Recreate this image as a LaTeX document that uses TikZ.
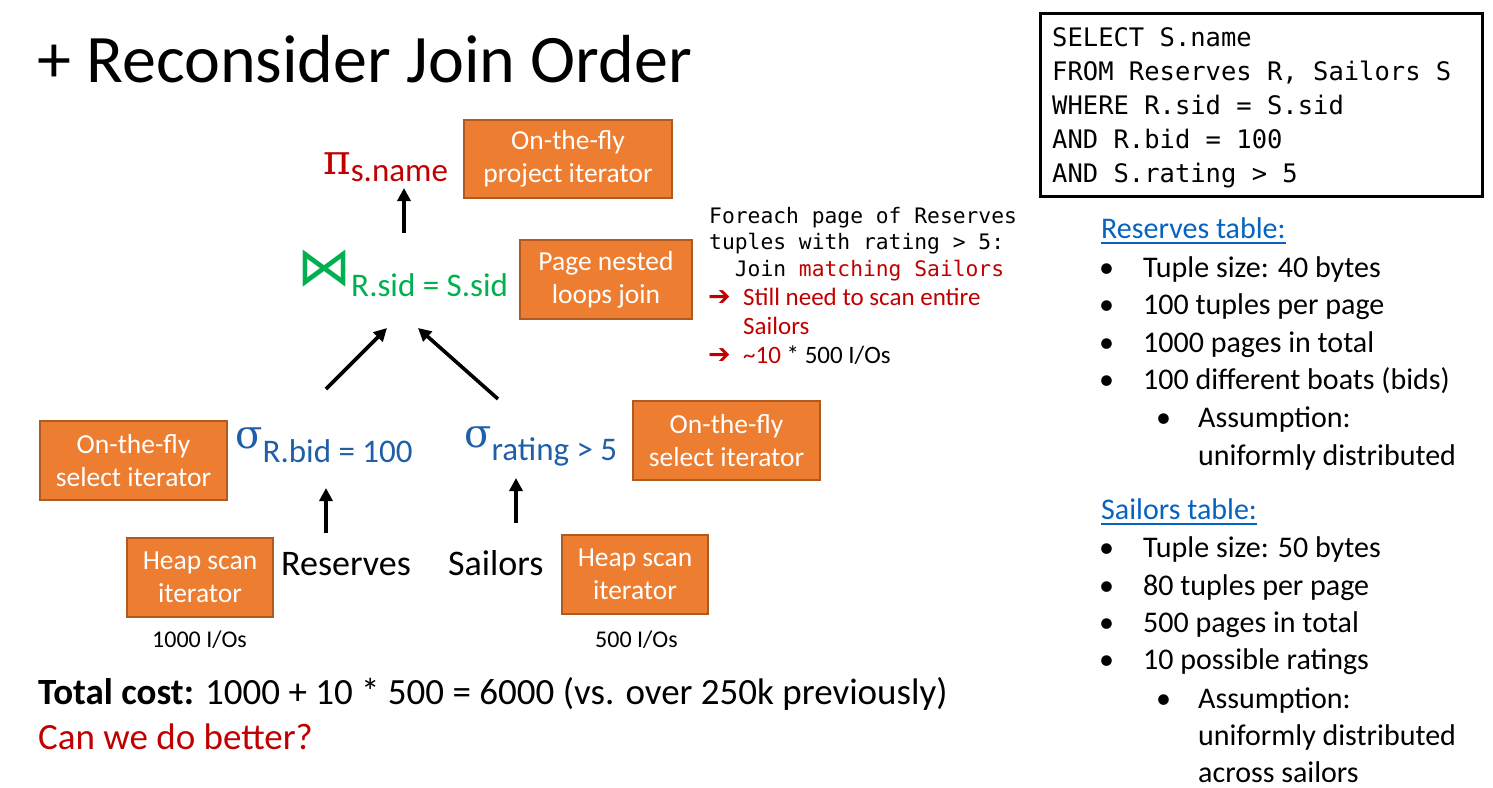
\documentclass[tikz,border=0pt]{standalone}
\usepackage{fontspec}
\setmainfont{Carlito}
\newfontfamily\codefont{DejaVu Sans Mono}
\newfontfamily\symfont{DejaVu Sans}
\newfontfamily\greekfont{DejaVu Serif}
\usetikzlibrary{arrows.meta}
\definecolor{boxfill}{HTML}{ED7D31}
\definecolor{boxline}{HTML}{AE5A21}
\definecolor{darkred}{HTML}{C00000}
\definecolor{opgreen}{HTML}{00B050}
\definecolor{opblue}{HTML}{1F5FA8}
\definecolor{linkblue}{HTML}{0563C1}
\newcommand\fsz[2]{\fontsize{#1}{#2}\selectfont}
\tikzset{
  opbox/.style={draw=boxline, fill=boxfill, line width=1.2pt, text=white,
    align=center, inner sep=0pt, font=\fsz{27.5}{33}},
  txt/.style={anchor=base west, inner sep=0pt},
  code/.style={txt, font=\codefont\fsz{21.3}{26}},
  sql/.style={txt, font=\codefont\fsz{25.5}{34}},
  note/.style={txt, font=\fsz{25}{29}},
  arrowbullet/.style={txt, text=darkred, font=\symfont\fsz{27}{27}},
  info/.style={txt, font=\fsz{30}{37}},
  flow/.style={-{Triangle[length=13pt,width=13pt]}, line width=3.6pt},
}
\begin{document}
\begin{tikzpicture}[x=1pt,y=-1pt]
\useasboundingbox (0,0) rectangle (1493,787);

% title
\node[txt, font=\fsz{68}{80}] (title) at (37,82) {+ Reconsider Join Order};

% operator tree
\node[txt, text=darkred] (proj) at (323,174)
  {{\greekfont\fsz{42}{42}π}\raisebox{-7pt}{\fsz{33}{33}s.name}};
\node[txt, text=opgreen] (join) at (297,285)
  {{\symfont\fsz{54}{54}⋈}\raisebox{-11pt}{\fsz{33}{33}R.sid = S.sid}};
\node[txt, text=opblue] (selR) at (235,448)
  {{\greekfont\fsz{40}{40}σ}\raisebox{-14pt}{\fsz{33}{33}R.bid = 100}};
\node[txt, text=opblue] (selS) at (464,447)
  {{\greekfont\fsz{40}{40}σ}\raisebox{-13pt}{\fsz{33}{33}rating > 5}};
\node[txt, font=\fsz{36}{36}] (res) at (281,575) {Reserves};
\node[txt, font=\fsz{36}{36}] (sail) at (448,575) {Sailors};
\node[txt, font=\fsz{24}{24}] (ioR) at (152,647) {1000 I/Os};
\node[txt, font=\fsz{24}{24}] (ioS) at (595,647) {500 I/Os};

% iterator boxes
\node[opbox, minimum width=208pt, minimum height=78pt] (bproj) at (568,159) {On-the-fly\\project iterator};
\node[opbox, minimum width=172pt, minimum height=79pt] (bjoin) at (606,279.5) {Page nested\\loops join};
\node[opbox, minimum width=187pt, minimum height=79pt] (bselR) at (133.5,460.5) {On-the-fly\\select iterator};
\node[opbox, minimum width=187pt, minimum height=79pt] (bselS) at (726.5,440.5) {On-the-fly\\select iterator};
\node[opbox, minimum width=146pt, minimum height=79pt] (bscanR) at (200,577.5) {Heap scan\\iterator};
\node[opbox, minimum width=146pt, minimum height=79pt] (bscanS) at (635,574.5) {Heap scan\\iterator};

% data flow arrows
\coordinate (jp0) at (404,233);
\coordinate (jp1) at (404,188);
\coordinate (lj0) at (326,389);
\coordinate (lj1) at (387,328);
\coordinate (rj0) at (498,399);
\coordinate (rj1) at (418,328);
\coordinate (rs0) at (326,533);
\coordinate (rs1) at (326,488);
\coordinate (ss0) at (516,523);
\coordinate (ss1) at (516,478);
\draw[flow] (jp0) -- (jp1);
\draw[flow] (lj0) -- (lj1);
\draw[flow] (rj0) -- (rj1);
\draw[flow] (rs0) -- (rs1);
\draw[flow] (ss0) -- (ss1);

% join strategy note
\node[code] (c1) at (709,223) {Foreach page of Reserves};
\node[code] (c2) at (709,249) {tuples with rating > 5:};
\node[code] (c3) at (709,276) {\ \ Join \textcolor{darkred}{matching Sailors}};
\node[arrowbullet] (ar1) at (708,305) {➔};
\node[note, text=darkred] (n1) at (743,305) {Still need to scan entire};
\node[note, text=darkred] (n2) at (743,334) {Sailors};
\node[arrowbullet] (ar2) at (708,363) {➔};
\node[note] (n3) at (743,363) {\textcolor{darkred}{\textasciitilde 10} * 500 I/Os};

% query
\draw[line width=3pt] (1040,13) rectangle (1482,196);
\node[sql] (q1) at (1052,46) {SELECT S.name};
\node[sql] (q2) at (1052,80) {FROM Reserves R, Sailors S};
\node[sql] (q3) at (1052,114) {WHERE R.sid = S.sid};
\node[sql] (q4) at (1052,148) {AND R.bid = 100};
\node[sql] (q5) at (1052,182) {AND S.rating > 5};

% table statistics
\node[info, text=linkblue] (rh) at (1101,238) {Reserves table:};
\draw[linkblue, line width=1.8pt] ([yshift=-5pt]rh.base west) -- ([yshift=-5pt]rh.base east);
\node[info] (rb1) at (1099,277) {•};
\node[info] (rt1) at (1143,277) {Tuple size: 40 bytes};
\node[info] (rb2) at (1099,314) {•};
\node[info] (rt2) at (1143,314) {100 tuples per page};
\node[info] (rb3) at (1099,352) {•};
\node[info] (rt3) at (1143,352) {1000 pages in total};
\node[info] (rb4) at (1099,389) {•};
\node[info] (rt4) at (1143,389) {100 different boats (bids)};
\node[info] (rb5) at (1156,427) {•};
\node[info] (rt5) at (1198,427) {Assumption:};
\node[info] (rt6) at (1198,465) {uniformly distributed};

\node[info, text=linkblue] (sh) at (1101,519) {Sailors table:};
\draw[linkblue, line width=1.8pt] ([yshift=-5pt]sh.base west) -- ([yshift=-5pt]sh.base east);
\node[info] (sb1) at (1099,557) {•};
\node[info] (st1) at (1143,557) {Tuple size: 50 bytes};
\node[info] (sb2) at (1099,595) {•};
\node[info] (st2) at (1143,595) {80 tuples per page};
\node[info] (sb3) at (1099,632) {•};
\node[info] (st3) at (1143,632) {500 pages in total};
\node[info] (sb4) at (1099,669) {•};
\node[info] (st4) at (1143,669) {10 possible ratings};
\node[info] (sb5) at (1156,708) {•};
\node[info] (st5) at (1198,708) {Assumption:};
\node[info] (st6) at (1198,745) {uniformly distributed};
\node[info] (st7) at (1198,782) {across sailors};

% totals
\node[txt, font=\fsz{37}{37}] (total) at (38,704)
  {\textbf{Total cost:} 1000 + 10 * 500 = 6000 (vs. over 250k previously)};
\node[txt, font=\fsz{37}{37}, text=darkred] (better) at (38,749) {Can we do better?};
\end{tikzpicture}
\end{document}
